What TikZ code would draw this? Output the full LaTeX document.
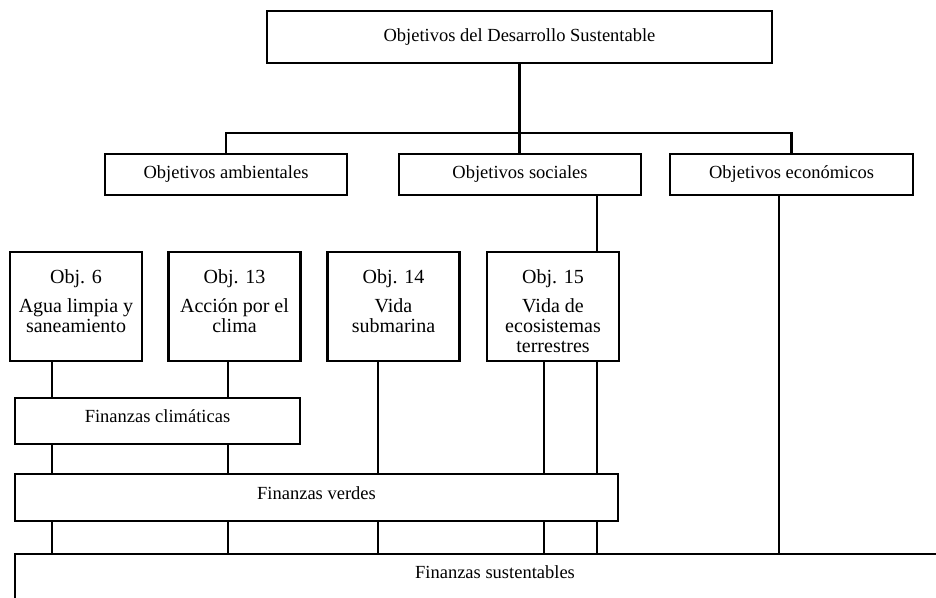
\documentclass[tikz,border=0pt]{standalone}
\usepackage{fontspec}
\setmainfont{Liberation Serif}
\usetikzlibrary{calc}

% top-aligned text inside a fixed box
\newcommand{\arriba}[4]{\parbox[c][#1][t]{#2}{\centering\vspace*{#3}#4}}

\begin{document}
\begin{tikzpicture}[x=1pt, y=-1pt,
    caja/.style={draw, rectangle, line width=2.8pt, inner sep=0pt,
        font=\fontsize{18.5}{20}\selectfont},
    nivel/.style={caja, minimum width=242pt, minimum height=41pt},
    objcaja/.style={caja, minimum width=132pt, minimum height=109pt,
        font=\fontsize{20}{20}\selectfont},
    enlace/.style={line width=2.4pt}]
    \useasboundingbox (0,0) rectangle (936,597);
    \clip (0,0) rectangle (936,597);

    \coordinate (barra) at (0,133);
    \coordinate (c1) at (52,0);
    \coordinate (c2) at (228,0);
    \coordinate (c3) at (378,0);
    \coordinate (c4) at (544,0);
    \coordinate (c5) at (597,0);
    \coordinate (c6) at (779,0);

    \node[caja, minimum width=505pt, minimum height=52pt] (ods) at (519.5,37)
        {Objetivos del Desarrollo Sustentable};

    \node[nivel] (amb) at (226,174.5) {Objetivos ambientales};
    \node[nivel] (soc) at (520,174.5) {Objetivos sociales};
    \node[nivel, minimum width=243pt] (eco) at (791.5,174.5) {Objetivos económicos};

    \node[objcaja] (o6) at (76,306.5)
        {\arriba{109pt}{132pt}{18pt}{Obj. 6\\[9pt] Agua limpia y\\ saneamiento}};
    \node[objcaja] (o13) at (234.5,306.5)
        {\arriba{109pt}{132pt}{18pt}{Obj. 13\\[9pt] Acción por el\\ clima}};
    \node[objcaja] (o14) at (393.5,306.5)
        {\arriba{109pt}{132pt}{18pt}{Obj. 14\\[9pt] Vida\\ submarina}};
    \node[objcaja] (o15) at (553,306.5)
        {\arriba{109pt}{132pt}{18pt}{Obj. 15\\[9pt] Vida de\\ ecosistemas\\ terrestres}};

    \node[caja, minimum width=285pt, minimum height=46pt, text depth=10pt] (fclim)
        at (157.5,421) {Finanzas climáticas};
    \node[caja, minimum width=603pt, minimum height=47pt, text depth=9pt] (fverd)
        at (316.5,497.5) {Finanzas verdes};
    \node[caja, minimum width=960pt, minimum height=60pt, text depth=24pt] (fsust)
        at (495,584) {Finanzas sustentables};

    \draw[enlace] (ods.south) -- (ods.south |- soc.north);
    \draw[enlace] (amb.north) |- (eco.north |- barra) -- (eco.north);
    \draw[enlace] (soc.south -| c5) -- (o15.north -| c5);
    \draw[enlace] (eco.south -| c6) -- (fsust.north -| c6);

    \draw[enlace] (o6.south -| c1) -- (fclim.north -| c1);
    \draw[enlace] (o13.south -| c2) -- (fclim.north -| c2);
    \draw[enlace] (o14.south -| c3) -- (fverd.north -| c3);
    \draw[enlace] (o15.south -| c4) -- (fverd.north -| c4);
    \draw[enlace] (o15.south -| c5) -- (fverd.north -| c5);
    \draw[enlace] (fclim.south -| c1) -- (fverd.north -| c1);
    \draw[enlace] (fclim.south -| c2) -- (fverd.north -| c2);

    \foreach \c in {c1,c2,c3,c4,c5}
        \draw[enlace] (fverd.south -| \c) -- (fsust.north -| \c);
\end{tikzpicture}
\end{document}
